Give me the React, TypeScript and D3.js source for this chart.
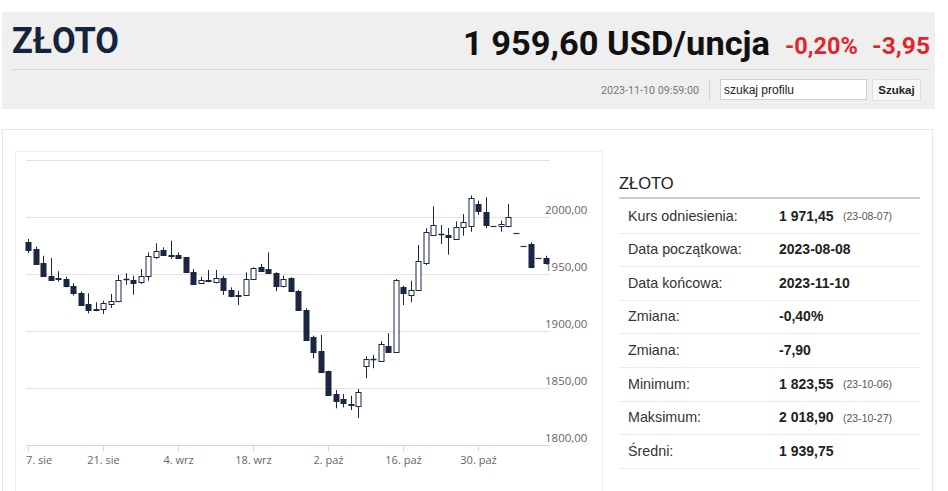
import React from "react";
import * as d3 from "d3";

// OHLC data, one candle per trading day from 7 Aug 2023 to 10 Nov 2023
const openV = [
  1977.8, 1971.9, 1959.4, 1948.5, 1946.2, 1945.6, 1939.2, 1933.3, 1923.7, 1919.6,
  1919.0, 1923.7, 1926.6, 1945.2, 1945.0, 1942.7, 1948.5, 1964.6, 1971.0, 1966.6,
  1966.9, 1964.6, 1951.5, 1941.8, 1944.1, 1942.7, 1946.5, 1936.0, 1931.2, 1931.8,
  1945.6, 1955.9, 1954.4, 1950.9, 1939.2, 1946.2, 1935.4, 1918.7, 1894.5, 1882.2,
  1864.6, 1844.7, 1840.4, 1836.0, 1834.5, 1869.0, 1875.4, 1874.0, 1887.1, 1881.8,
  1938.9, 1931.8, 1936.2, 1959.6, 1984.5, 1985.1, 1984.5, 1980.7, 1991.0, 1991.8,
  2011.4, 2004.6, 1991.8, 1991.8, 1991.8, 1985.7, 1974.8, 1976.3, 1963.8, 1963.8,
];
const highV = [
  1980.7, 1974.0, 1966.0, 1964.0, 1952.4, 1947.6, 1941.8, 1934.8, 1933.1, 1925.2,
  1926.6, 1932.5, 1949.1, 1950.6, 1948.5, 1954.4, 1969.0, 1976.9, 1973.4, 1979.2,
  1969.0, 1964.6, 1954.4, 1947.6, 1953.5, 1953.5, 1948.5, 1938.3, 1935.4, 1951.5,
  1955.9, 1958.8, 1969.0, 1951.5, 1948.5, 1947.1, 1936.0, 1919.9, 1895.9, 1896.5,
  1865.2, 1848.2, 1844.7, 1843.2, 1849.1, 1877.8, 1879.0, 1891.0, 1898.0, 1945.6,
  1939.7, 1944.1, 1975.4, 1990.1, 2009.4, 1993.0, 1990.4, 1996.2, 2002.6, 2018.9,
  2014.3, 2017.3, 1991.8, 1996.8, 2011.4, 1985.7, 1974.8, 1977.8, 1963.8, 1966.0,
];
const lowV = [
  1968.2, 1958.1, 1947.6, 1944.7, 1943.2, 1938.3, 1931.0, 1922.2, 1915.5, 1917.3,
  1914.9, 1920.2, 1925.2, 1940.6, 1931.8, 1941.2, 1944.1, 1963.2, 1966.4, 1963.2,
  1963.2, 1950.9, 1940.4, 1941.2, 1942.7, 1941.8, 1931.6, 1929.6, 1922.8, 1931.0,
  1945.0, 1952.0, 1950.0, 1934.8, 1938.3, 1934.8, 1917.8, 1891.5, 1876.0, 1863.2,
  1843.2, 1832.2, 1833.0, 1830.7, 1823.55, 1858.5, 1867.3, 1873.0, 1881.3, 1881.3,
  1922.8, 1925.2, 1935.4, 1957.9, 1983.6, 1976.3, 1966.9, 1980.1, 1983.6, 1987.1,
  2001.8, 1990.1, 1991.8, 1987.1, 1991.0, 1985.7, 1974.8, 1955.0, 1963.8, 1958.9,
];
const closeV = [
  1971.45, 1958.8, 1948.0, 1945.0, 1945.2, 1939.7, 1933.1, 1922.8, 1918.4, 1918.4,
  1924.3, 1926.6, 1945.0, 1945.8, 1942.1, 1948.5, 1966.0, 1970.4, 1966.9, 1966.0,
  1964.0, 1951.5, 1941.2, 1944.7, 1944.4, 1946.5, 1936.2, 1930.4, 1931.0, 1945.6,
  1955.0, 1952.4, 1950.6, 1939.2, 1945.6, 1935.4, 1918.6, 1892.4, 1881.8, 1864.3,
  1843.9, 1838.9, 1836.6, 1835.5, 1846.2, 1875.4, 1875.8, 1888.6, 1881.8, 1944.5,
  1933.1, 1936.0, 1961.1, 1986.6, 1993.0, 1985.3, 1982.7, 1991.0, 1995.4, 2016.4,
  2005.5, 1993.0, 1991.8, 1993.9, 1999.7, 1985.7, 1974.8, 1955.9, 1963.8, 1959.6,
];

const xTickIndex = [0, 10, 20, 30, 40, 50, 60];
const xTickLabels = ["7. sie", "21. sie", "4. wrz", "18. wrz", "2. paź", "16. paź", "30. paź"];
const yTicks = [1800, 1850, 1900, 1950, 2000, 2050];
const yLabelTicks = [1800, 1850, 1900, 1950, 2000];

const tableLabels = [
  "Kurs odniesienia:",
  "Data początkowa:",
  "Data końcowa:",
  "Zmiana:",
  "Zmiana:",
  "Minimum:",
  "Maksimum:",
  "Średni:",
];
const tableValues = ["1 971,45", "2023-08-08", "2023-11-10", "-0,40%", "-7,90", "1 823,55", "2 018,90", "1 939,75"];
const tableDates = ["(23-08-07)", "", "", "", "", "(23-10-06)", "(23-10-27)", ""];

const DARK = "#1a2742";

export default function App() {
  const x = d3.scaleLinear().domain([0, openV.length - 1]).range([28.3, 545.8]);
  const y = d3.scaleLinear().domain([1800, 2050]).range([445, 160]);
  const fmt = (v: number) => v.toFixed(2).replace(".", ",");

  const rowY = d3.range(tableLabels.length).map((i) => 199 + i * 33.6);

  return (
    <div style={{ position: "absolute", left: 0, top: 0, width: 948, height: 491, background: "#fff" }}>
      <svg width={948} height={491} style={{ display: "block" }}>
        {/* header band */}
        <rect x={2} y={12} width={933} height={97} fill="#efefef" />
        <line x1={12} x2={930} y1={69.5} y2={69.5} stroke="#d9d9d9" />
        <text x={12} y={53} fontFamily="Roboto, sans-serif" fontWeight={700} fontSize={36} fill="#14243f"
          textLength={107} lengthAdjust="spacingAndGlyphs">ZŁOTO</text>
        <text x={463} y={55} fontFamily="Roboto, sans-serif" fontWeight={700} fontSize={33} fill="#111"
          textLength={307} lengthAdjust="spacingAndGlyphs">1 959,60 USD/uncja</text>
        <text x={785} y={54} fontFamily="Roboto, sans-serif" fontWeight={700} fontSize={24} fill="#e2262c"
          textLength={73} lengthAdjust="spacingAndGlyphs">-0,20%</text>
        <text x={872} y={54} fontFamily="Roboto, sans-serif" fontWeight={700} fontSize={24} fill="#e2262c"
          textLength={58} lengthAdjust="spacingAndGlyphs">-3,95</text>
        <text x={601} y={94} fontFamily="Roboto, sans-serif" fontSize={11.5} fill="#777"
          textLength={98} lengthAdjust="spacingAndGlyphs">2023-11-10 09:59:00</text>
        <line x1={709.5} x2={709.5} y1={79} y2={101} stroke="#d4d4d4" />
        <rect x={720.5} y={79.5} width={146} height={20} fill="#fff" stroke="#cfcfcf" />
        <text x={724} y={93.5} fontFamily="Liberation Sans, Arial, sans-serif" fontSize={12} fill="#222">szukaj profilu</text>
        <rect x={872.5} y={79.5} width={48} height={21} fill="#f7f7f7" stroke="#dedede" rx={1} />
        <text x={896.5} y={94} textAnchor="middle" fontFamily="Liberation Sans, Arial, sans-serif" fontWeight={700}
          fontSize={11.5} fill="#222">Szukaj</text>

        {/* content panel */}
        <rect x={2.5} y={129.5} width={930} height={370} fill="#fff" stroke="#e6e6e6" />
        <rect x={15.5} y={151.5} width={587} height={350} fill="#fff" stroke="#eeeeee" />

        {/* grid */}
        {yTicks.map((t) => (
          <line key={"g" + t} x1={26} x2={550} y1={Math.round(y(t)) + 0.5} y2={Math.round(y(t)) + 0.5}
            stroke={t === 1800 ? "#ccd6eb" : "#e3e3e3"} />
        ))}
        {yLabelTicks.map((t) => (
          <text key={"yl" + t} x={545} y={y(t) - 2.7} fontFamily="Open Sans, sans-serif" fontSize={11.5} fill="#666">
            {fmt(t)}
          </text>
        ))}
        {xTickIndex.map((ti, k) => {
          const tx = Math.round(x(ti)) + 0.5;
          return (
            <g key={"xt" + ti}>
              <line x1={tx} x2={tx} y1={445} y2={451} stroke="#ccd6eb" />
              <text x={k === 0 ? 26 : tx} y={463.5} textAnchor={k === 0 ? "start" : "middle"}
                fontFamily="Open Sans, sans-serif" fontSize={11} fill="#666">{xTickLabels[k]}</text>
            </g>
          );
        })}

        {/* candles */}
        {openV.map((o, i) => {
          const c = closeV[i];
          const h = highV[i];
          const l = lowV[i];
          const cx = Math.round(x(i)) + 0.5;
          const up = c >= o;
          const top = Math.round(y(Math.max(o, c))) + 0.5;
          const bot = Math.round(y(Math.min(o, c))) + 0.5;
          if (h === l) {
            return (
              <line key={"c" + i} x1={cx - 3} x2={cx + 3} y1={top} y2={top} stroke="#333" strokeWidth={1.2} />
            );
          }
          return (
            <g key={"c" + i}>
              <line x1={cx} x2={cx} y1={y(h)} y2={y(l)} stroke={DARK} strokeWidth={1} />
              {bot - top < 1 ? (
                <line x1={cx - 3} x2={cx + 3} y1={top} y2={top} stroke={DARK} strokeWidth={1.5} />
              ) : (
                <rect x={cx - 2.5} y={top} width={5} height={bot - top}
                  fill={up ? "#ffffff" : DARK} stroke={DARK} strokeWidth={1} />
              )}
            </g>
          );
        })}

        {/* stats table */}
        <text x={619} y={189} fontFamily="Liberation Sans, Arial, sans-serif" fontSize={16.5} fill="#222">ZŁOTO</text>
        <line x1={619} x2={920} y1={198} y2={198} stroke="#cccccc" strokeWidth={2} />
        {tableLabels.map((lab, i) => (
          <g key={"r" + i}>
            <text x={628} y={rowY[i] + 21.5} fontFamily="Liberation Sans, Arial, sans-serif" fontSize={14.3} fill="#333">{lab}</text>
            <text x={779} y={rowY[i] + 21.5} fontFamily="Liberation Sans, Arial, sans-serif" fontSize={14} fontWeight={700} fill="#222">{tableValues[i]}</text>
            {tableDates[i] && (
              <text x={843} y={rowY[i] + 21} fontFamily="Liberation Sans, Arial, sans-serif" fontSize={10.5} fill="#555">{tableDates[i]}</text>
            )}
            <line x1={619} x2={920} y1={Math.round(rowY[i] + 33.6) + 0.5} y2={Math.round(rowY[i] + 33.6) + 0.5} stroke="#ececec" />
          </g>
        ))}
      </svg>
    </div>
  );
}
